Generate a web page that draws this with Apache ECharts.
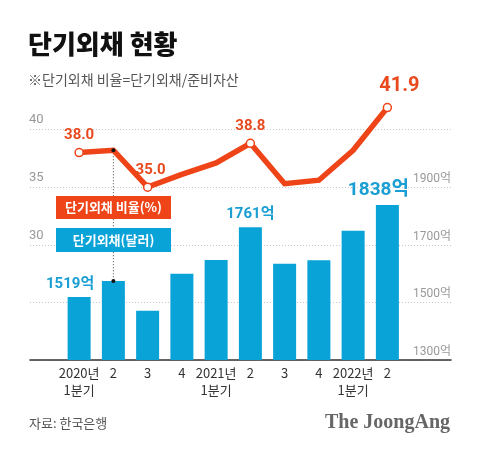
<!DOCTYPE html>
<html><head><meta charset="utf-8">
<script src="https://cdn.jsdelivr.net/npm/echarts@6/dist/echarts.min.js"></script>
<style>html,body{margin:0;padding:0;background:#fff}#c{width:480px;height:452px}</style>
</head><body><div id="c"></div>
<script>
// ---- data ----
const categories = ['2020년\n1분기','2','3','4','2021년\n1분기','2','3','4','2022년\n1분기','2'];
const debtUsd = [1519,1574,1471,1599,1647,1761,1634,1646,1749,1838];      // 단기외채 (억 달러)
const debtRatio = [38.0,38.2,35.0,36.1,37.1,38.8,35.3,35.6,38.2,41.9];     // 단기외채 비율 (%)
const ratioLabels = ['38.0','','35.0','','','38.8','','','','41.9'];
const usdLabels = ['1519억','','','','','1761억','','','','1838억'];
const ratioAxis = {min:20, max:40, step:5, shownFrom:30};
const usdAxis = {min:1300, max:2100, step:200, shownTo:1900};

const RED = '#ee4418', RED_TXT = '#e84a1e', BLUE = '#0aa3d8', BLUE_TXT = '#1a9ed3';
const KR = "'Noto Sans CJK KR', 'Noto Sans', sans-serif";
const NUM = "Roboto, 'Noto Sans CJK KR', sans-serif";
const last = debtRatio.length - 1;

const lineData = debtRatio.map((v, i) => {
  const lab = ratioLabels[i];
  if (!lab) return {value: v, symbolSize: 0};
  const big = i === last;
  return {
    value: v, symbolSize: 8,
    itemStyle: {color: '#fff', borderColor: RED, borderWidth: 1.5},
    label: {show: true, formatter: lab, position: 'top', distance: big ? 7 : 5,
      offset: big ? [12, 0] : (i === 2 ? [3, 0] : [0, 0]),
      fontSize: big ? 20 : 15, fontWeight: 'bold', color: RED_TXT, fontFamily: NUM}
  };
});
const barData = debtUsd.map((v, i) => {
  const lab = usdLabels[i];
  if (!lab) return {value: v};
  const big = i === last;
  return {
    value: v,
    label: {show: true, formatter: lab, position: 'top', distance: 5,
      offset: (i === 0 || big) ? [-9, 0] : [0, 0],
      fontSize: big ? 19 : 15, fontWeight: 'bold', color: BLUE_TXT, fontFamily: NUM}
  };
});

const chart = echarts.init(document.getElementById('c'));
const TOP = 129.5, BOTTOM = 92;
chart.setOption({
  animation: false,
  backgroundColor: '#fff',
  title: {
    text: '단기외채 현황', subtext: '※단기외채 비율=단기외채/준비자산',
    left: 28, top: 31, padding: 0, itemGap: 15,
    textStyle: {fontSize: 26, fontWeight: 900, color: '#111', fontFamily: KR, lineHeight: 27},
    subtextStyle: {fontSize: 14, color: '#555', fontFamily: KR, lineHeight: 14}
  },
  grid: [
    {left: 30, right: 29, top: TOP, bottom: BOTTOM},
    {left: 62, right: 75.5, top: TOP, bottom: BOTTOM}
  ],
  xAxis: [
    {gridIndex: 0, type: 'value', min: 0, max: 1,
      axisLine: {show: true, lineStyle: {color: '#333', width: 1.5}},
      axisTick: {show: false}, axisLabel: {show: false}, splitLine: {show: false}},
    {gridIndex: 1, type: 'category', data: categories,
      axisLine: {show: false}, axisTick: {show: false},
      axisLabel: {color: '#333', fontSize: 13, margin: 5, lineHeight: 17, fontFamily: KR, interval: 0}}
  ],
  yAxis: [
    {gridIndex: 0, type: 'value', position: 'left', min: ratioAxis.min, max: ratioAxis.max, interval: ratioAxis.step,
      axisLine: {show: false}, axisTick: {show: false},
      axisLabel: {inside: true, margin: -1, verticalAlign: 'bottom', padding: [0,0,3,0],
        color: '#999', fontSize: 13, fontFamily: NUM,
        formatter: v => v >= ratioAxis.shownFrom ? String(v) : ''},
      splitLine: {show: true, lineStyle: {color: '#c8c8c8', type: [1, 2], width: 1}}},
    {gridIndex: 0, type: 'value', position: 'right', min: usdAxis.min, max: usdAxis.max, interval: usdAxis.step,
      axisLine: {show: false}, axisTick: {show: false},
      axisLabel: {inside: true, margin: 0, verticalAlign: 'bottom', padding: [0,0,2,0],
        color: '#999', fontSize: 12, fontFamily: NUM,
        formatter: v => v <= usdAxis.shownTo ? v + '억' : ''},
      splitLine: {show: false}},
    {gridIndex: 1, type: 'value', show: false, min: ratioAxis.min, max: ratioAxis.max, interval: ratioAxis.step, splitLine: {show: false}},
    {gridIndex: 1, type: 'value', show: false, min: usdAxis.min, max: usdAxis.max, interval: usdAxis.step, splitLine: {show: false}}
  ],
  series: [
    {name: '단기외채(달러)', type: 'bar', xAxisIndex: 1, yAxisIndex: 3, barWidth: 23,
      itemStyle: {color: BLUE}, data: barData, z: 2},
    {name: '단기외채 비율(%)', type: 'line', xAxisIndex: 1, yAxisIndex: 2, clip: false,
      symbol: 'circle', showAllSymbol: true,
      lineStyle: {color: RED, width: 5.5, join: 'miter'}, itemStyle: {color: RED},
      data: lineData, z: 4}
  ]
});

// leader line from 2020 Q2 point to its bar, plus legend boxes and footer
const p1 = chart.convertToPixel({xAxisIndex: 1, yAxisIndex: 2}, [1, debtRatio[1]]);
const p2 = chart.convertToPixel({xAxisIndex: 1, yAxisIndex: 3}, [1, debtUsd[1]]);
chart.setOption({
  graphic: [
    {type: 'line', z: 3, shape: {x1: p1[0], y1: p1[1], x2: p2[0], y2: p2[1]},
      style: {stroke: '#444', lineWidth: 1, lineDash: [1, 2]}},
    {type: 'circle', z: 5, shape: {cx: p1[0], cy: p1[1], r: 2}, style: {fill: '#111'}},
    {type: 'circle', z: 5, shape: {cx: p2[0], cy: p2[1], r: 2}, style: {fill: '#111'}},
    {type: 'rect', z: 10, shape: {x: 56, y: 196, width: 115, height: 23}, style: {fill: RED}},
    {type: 'text', z: 11, x: 113.5, y: 207.5, style: {text: '단기외채 비율(%)', fill: '#fff', font: "bold 13px " + KR, align: 'center', verticalAlign: 'middle'}},
    {type: 'rect', z: 10, shape: {x: 56, y: 228, width: 115, height: 24}, style: {fill: BLUE}},
    {type: 'text', z: 11, x: 113.5, y: 240, style: {text: '단기외채(달러)', fill: '#fff', font: "bold 13px " + KR, align: 'center', verticalAlign: 'middle'}},
    {type: 'text', x: 29, y: 423, style: {text: '자료: 한국은행', fill: '#555', font: "13px " + KR, verticalAlign: 'middle'}},
    {type: 'text', x: 450, y: 423, style: {text: 'The JoongAng', fill: '#666', font: "bold 20px 'Liberation Serif', 'DejaVu Serif', serif", align: 'right', verticalAlign: 'middle'}}
  ]
});
</script>
</body></html>
